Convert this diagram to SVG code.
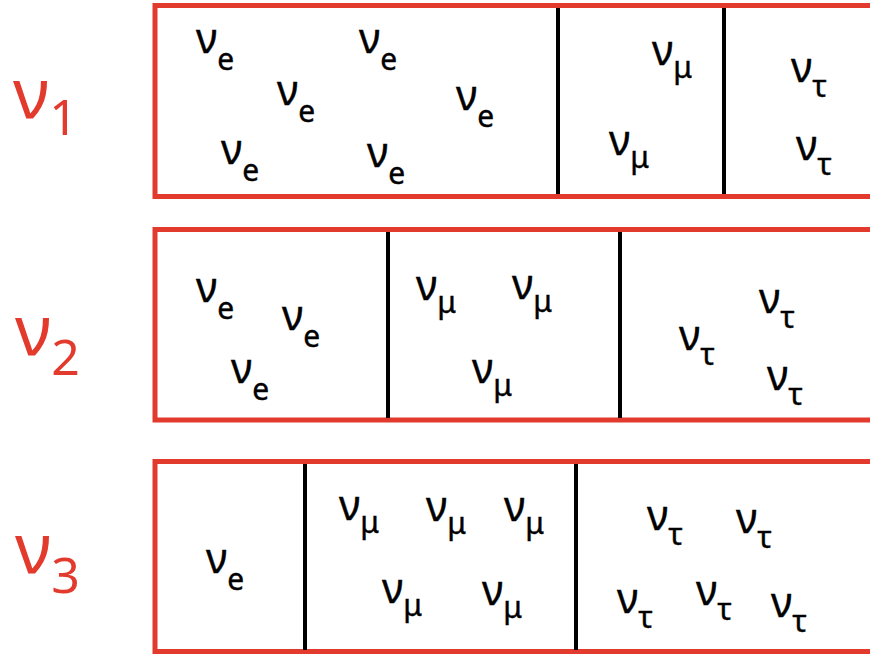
<svg xmlns="http://www.w3.org/2000/svg" width="870" height="654" viewBox="0 0 870 654">
<style>
.box{fill:#fff;stroke:#e23b2e;stroke-width:5}
.div{stroke:#000;stroke-width:4}
.n{font-family:"Noto Sans","DejaVu Sans",sans-serif;font-size:41px;fill:#000;stroke:#000;stroke-width:0.4}
.s{font-size:30px}
.r{font-family:"Noto Sans","DejaVu Sans",sans-serif;font-size:70px;fill:#e23b2e}
.rs{font-size:50px}
</style>
<rect width="870" height="654" fill="#fff"/>
<g id="label1"><text class="r" x="13" y="118">ν<tspan class="rs" dy="17">1</tspan></text></g>
<g id="label2"><text class="r" x="15" y="355">ν<tspan class="rs" dy="20">2</tspan></text></g>
<g id="label3"><text class="r" x="15" y="573">ν<tspan class="rs" dy="20">3</tspan></text></g>
<g id="row1">
<rect class="box" x="155" y="5.5" width="740" height="191"/>
<line class="div" x1="558" y1="8" x2="558" y2="194"/>
<line class="div" x1="724" y1="8" x2="724" y2="194"/>
<text class="n" x="196" y="53">ν<tspan class="s" dy="17">e</tspan></text>
<text class="n" x="359" y="53">ν<tspan class="s" dy="17">e</tspan></text>
<text class="n" x="277" y="105">ν<tspan class="s" dy="17">e</tspan></text>
<text class="n" x="456" y="110">ν<tspan class="s" dy="17">e</tspan></text>
<text class="n" x="221" y="164">ν<tspan class="s" dy="17">e</tspan></text>
<text class="n" x="367" y="167">ν<tspan class="s" dy="17">e</tspan></text>
<text class="n" x="652" y="65">ν<tspan class="s" dy="13">μ</tspan></text>
<text class="n" x="609" y="155">ν<tspan class="s" dy="13">μ</tspan></text>
<text class="n" x="791" y="82">ν<tspan class="s" dy="15">τ</tspan></text>
<text class="n" x="796" y="160">ν<tspan class="s" dy="15">τ</tspan></text>
</g>
<g id="row2">
<rect class="box" x="155" y="229.5" width="740" height="190.5"/>
<line class="div" x1="388" y1="232" x2="388" y2="418"/>
<line class="div" x1="620" y1="232" x2="620" y2="418"/>
<text class="n" x="196" y="302">ν<tspan class="s" dy="17">e</tspan></text>
<text class="n" x="282" y="330">ν<tspan class="s" dy="17">e</tspan></text>
<text class="n" x="231" y="383">ν<tspan class="s" dy="17">e</tspan></text>
<text class="n" x="416" y="300">ν<tspan class="s" dy="13">μ</tspan></text>
<text class="n" x="512" y="299">ν<tspan class="s" dy="13">μ</tspan></text>
<text class="n" x="472" y="383">ν<tspan class="s" dy="13">μ</tspan></text>
<text class="n" x="679" y="350">ν<tspan class="s" dy="15">τ</tspan></text>
<text class="n" x="759" y="313">ν<tspan class="s" dy="15">τ</tspan></text>
<text class="n" x="767" y="390">ν<tspan class="s" dy="15">τ</tspan></text>
</g>
<g id="row3">
<rect class="box" x="155" y="461.5" width="740" height="190"/>
<line class="div" x1="305" y1="464" x2="305" y2="650"/>
<line class="div" x1="576" y1="464" x2="576" y2="650"/>
<text class="n" x="206" y="573">ν<tspan class="s" dy="17">e</tspan></text>
<text class="n" x="339" y="520">ν<tspan class="s" dy="13">μ</tspan></text>
<text class="n" x="426" y="521">ν<tspan class="s" dy="13">μ</tspan></text>
<text class="n" x="504" y="521">ν<tspan class="s" dy="13">μ</tspan></text>
<text class="n" x="382" y="603">ν<tspan class="s" dy="13">μ</tspan></text>
<text class="n" x="482" y="605">ν<tspan class="s" dy="13">μ</tspan></text>
<text class="n" x="647" y="530">ν<tspan class="s" dy="15">τ</tspan></text>
<text class="n" x="736" y="533">ν<tspan class="s" dy="15">τ</tspan></text>
<text class="n" x="617" y="613">ν<tspan class="s" dy="15">τ</tspan></text>
<text class="n" x="696" y="605">ν<tspan class="s" dy="15">τ</tspan></text>
<text class="n" x="771" y="617">ν<tspan class="s" dy="15">τ</tspan></text>
</g>
</svg>
